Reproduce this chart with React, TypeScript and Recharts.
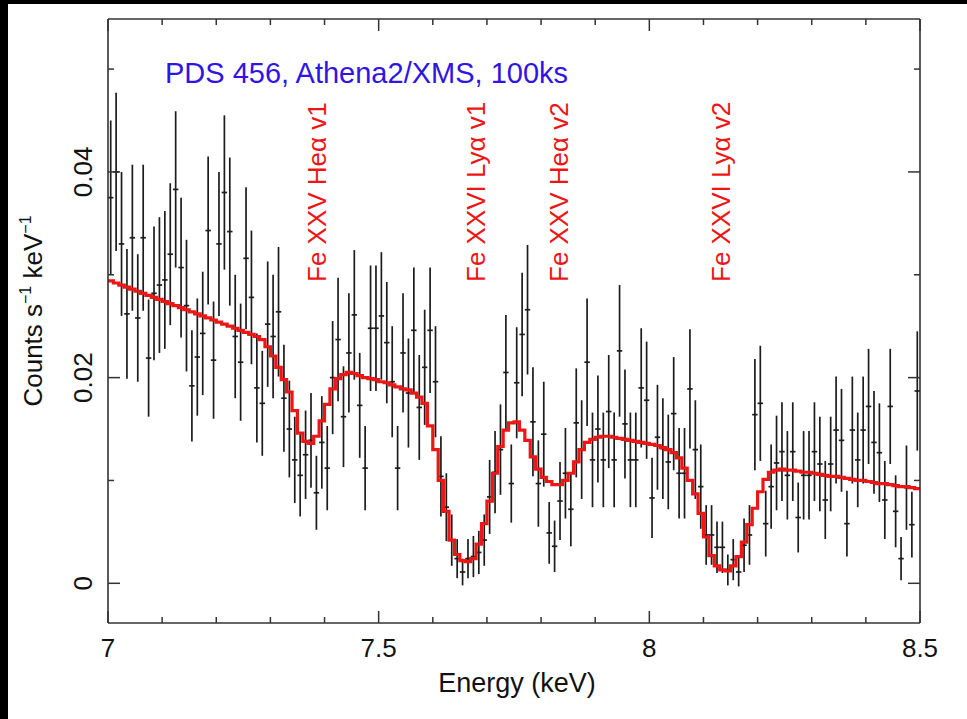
import React from "react";
import { ComposedChart, XAxis, YAxis, Scatter, Line, ErrorBar } from "recharts";

// bin centres (keV), 0.01 keV bins
const ENERGY = [
  7.005, 7.015, 7.025, 7.035, 7.045, 7.055, 7.065, 7.075, 7.085, 7.095,
  7.105, 7.115, 7.125, 7.135, 7.145, 7.155, 7.165, 7.175, 7.185, 7.195,
  7.205, 7.215, 7.225, 7.235, 7.245, 7.255, 7.265, 7.275, 7.285, 7.295,
  7.305, 7.315, 7.325, 7.335, 7.345, 7.355, 7.365, 7.375, 7.385, 7.395,
  7.405, 7.415, 7.425, 7.435, 7.445, 7.455, 7.465, 7.475, 7.485, 7.495,
  7.505, 7.515, 7.525, 7.535, 7.545, 7.555, 7.565, 7.575, 7.585, 7.595,
  7.605, 7.615, 7.625, 7.635, 7.645, 7.655, 7.665, 7.675, 7.685, 7.695,
  7.705, 7.715, 7.725, 7.735, 7.745, 7.755, 7.765, 7.775, 7.785, 7.795,
  7.805, 7.815, 7.825, 7.835, 7.845, 7.855, 7.865, 7.875, 7.885, 7.895,
  7.905, 7.915, 7.925, 7.935, 7.945, 7.955, 7.965, 7.975, 7.985, 7.995,
  8.005, 8.015, 8.025, 8.035, 8.045, 8.055, 8.065, 8.075, 8.085, 8.095,
  8.105, 8.115, 8.125, 8.135, 8.145, 8.155, 8.165, 8.175, 8.185, 8.195,
  8.205, 8.215, 8.225, 8.235, 8.245, 8.255, 8.265, 8.275, 8.285, 8.295,
  8.305, 8.315, 8.325, 8.335, 8.345, 8.355, 8.365, 8.375, 8.385, 8.395,
  8.405, 8.415, 8.425, 8.435, 8.445, 8.455, 8.465, 8.475, 8.485, 8.495,
];

// counts s^-1 keV^-1
const COUNTS = [
  0.0375, 0.0400, 0.0330, 0.0262, 0.0336, 0.0258, 0.0336, 0.0219, 0.0282, 0.0290,
  0.0295, 0.0320, 0.0383, 0.0307, 0.0270, 0.0192, 0.0220, 0.0243, 0.0343, 0.0217,
  0.0330, 0.0380, 0.0342, 0.0240, 0.0215, 0.0316, 0.0278, 0.0190, 0.0175, 0.0252,
  0.0240, 0.0264, 0.0180, 0.0150, 0.0120, 0.0105, 0.0125, 0.0139, 0.0088, 0.0137,
  0.0112, 0.0200, 0.0237, 0.0162, 0.0224, 0.0261, 0.0173, 0.0112, 0.0248, 0.0248,
  0.0260, 0.0234, 0.0196, 0.0112, 0.0224, 0.0185, 0.0246, 0.0171, 0.0210, 0.0246,
  0.0196, 0.0104, 0.0074, 0.0042, 0.0024, 0.0011, 0.0024, 0.0026, 0.0030, 0.0042,
  0.0084, 0.0108, 0.0130, 0.0205, 0.0097, 0.0195, 0.0242, 0.0266, 0.0157, 0.0097,
  0.0145, 0.0049, 0.0036, 0.0080, 0.0107, 0.0072, 0.0156, 0.0130, 0.0215, 0.0120,
  0.0150, 0.0120, 0.0167, 0.0120, 0.0226, 0.0155, 0.0120, 0.0120, 0.0190, 0.0178,
  0.0083, 0.0142, 0.0131, 0.0118, 0.0165, 0.0107, 0.0107, 0.0189, 0.0130, 0.0094,
  0.0047, 0.0047, 0.0035, 0.0035, 0.0013, 0.0023, 0.0011, 0.0037, 0.0047, 0.0164,
  0.0175, 0.0058, 0.0094, 0.0117, 0.0128, 0.0105, 0.0128, 0.0064, 0.0105, 0.0105,
  0.0128, 0.0116, 0.0081, 0.0116, 0.0149, 0.0139, 0.0058, 0.0149, 0.0120, 0.0149,
  0.0172, 0.0137, 0.0127, 0.0081, 0.0172, 0.0070, 0.0024, 0.0093, 0.0057, 0.0187,
];

// 1-sigma errors on COUNTS
const COUNT_ERR = [
  0.0075, 0.0077, 0.0070, 0.0063, 0.0071, 0.0062, 0.0071, 0.0057, 0.0065, 0.0066,
  0.0067, 0.0069, 0.0076, 0.0068, 0.0064, 0.0054, 0.0057, 0.0060, 0.0072, 0.0057,
  0.0070, 0.0075, 0.0072, 0.0060, 0.0057, 0.0069, 0.0065, 0.0053, 0.0051, 0.0061,
  0.0060, 0.0063, 0.0052, 0.0047, 0.0042, 0.0040, 0.0043, 0.0046, 0.0036, 0.0045,
  0.0041, 0.0055, 0.0060, 0.0049, 0.0058, 0.0063, 0.0051, 0.0041, 0.0061, 0.0061,
  0.0062, 0.0059, 0.0054, 0.0041, 0.0058, 0.0053, 0.0061, 0.0051, 0.0056, 0.0061,
  0.0054, 0.0039, 0.0033, 0.0025, 0.0019, 0.0013, 0.0019, 0.0020, 0.0021, 0.0025,
  0.0036, 0.0040, 0.0044, 0.0056, 0.0038, 0.0054, 0.0060, 0.0063, 0.0053, 0.0042,
  0.0051, 0.0030, 0.0025, 0.0038, 0.0044, 0.0036, 0.0053, 0.0048, 0.0062, 0.0046,
  0.0052, 0.0046, 0.0055, 0.0046, 0.0064, 0.0053, 0.0046, 0.0046, 0.0058, 0.0057,
  0.0039, 0.0051, 0.0049, 0.0046, 0.0055, 0.0044, 0.0044, 0.0058, 0.0048, 0.0041,
  0.0029, 0.0029, 0.0025, 0.0025, 0.0015, 0.0020, 0.0014, 0.0026, 0.0029, 0.0054,
  0.0056, 0.0032, 0.0041, 0.0046, 0.0048, 0.0043, 0.0048, 0.0034, 0.0043, 0.0043,
  0.0048, 0.0046, 0.0038, 0.0046, 0.0052, 0.0050, 0.0032, 0.0052, 0.0046, 0.0052,
  0.0056, 0.0050, 0.0048, 0.0038, 0.0056, 0.0035, 0.0021, 0.0041, 0.0032, 0.0058,
];

// folded model, one value per bin
const MODEL = [
  0.0294, 0.0292, 0.0290, 0.0288, 0.0286, 0.0284, 0.0282, 0.0280, 0.0278, 0.0276,
  0.0274, 0.0272, 0.0270, 0.0268, 0.0266, 0.0264, 0.0262, 0.0260, 0.0258, 0.0256,
  0.0254, 0.0252, 0.0250, 0.0248, 0.0246, 0.0244, 0.0242, 0.0240, 0.0237, 0.0230,
  0.0221, 0.0210, 0.0198, 0.0186, 0.0168, 0.0146, 0.0138, 0.0136, 0.0143, 0.0158,
  0.0174, 0.0189, 0.0199, 0.0203, 0.0205, 0.0204, 0.0202, 0.0200, 0.0199, 0.0198,
  0.0196, 0.0195, 0.0193, 0.0191, 0.0189, 0.0188, 0.0185, 0.0181, 0.0175, 0.0153,
  0.0130, 0.0100, 0.0070, 0.0042, 0.0028, 0.0022, 0.0021, 0.0024, 0.0038, 0.0058,
  0.0080, 0.0107, 0.0133, 0.0149, 0.0156, 0.0157, 0.0149, 0.0139, 0.0123, 0.0111,
  0.0103, 0.0099, 0.0096, 0.0096, 0.0100, 0.0107, 0.0118, 0.0130, 0.0137, 0.0140,
  0.0142, 0.0143, 0.0143, 0.0142, 0.0141, 0.0140, 0.0139, 0.0138, 0.0137, 0.0136,
  0.0135, 0.0134, 0.0132, 0.0130, 0.0127, 0.0122, 0.0112, 0.0100, 0.0087, 0.0068,
  0.0045, 0.0027, 0.0017, 0.0013, 0.0012, 0.0017, 0.0026, 0.0040, 0.0057, 0.0073,
  0.0089, 0.0101, 0.0108, 0.0110, 0.0111, 0.0110, 0.0110, 0.0109, 0.0108, 0.0108,
  0.0107, 0.0106, 0.0105, 0.0104, 0.0104, 0.0103, 0.0102, 0.0101, 0.0100, 0.0100,
  0.0099, 0.0098, 0.0097, 0.0097, 0.0096, 0.0095, 0.0094, 0.0094, 0.0093, 0.0092,
];

const X_TICKS = [7, 7.1, 7.2, 7.3, 7.4, 7.5, 7.6, 7.7, 7.8, 7.9, 8, 8.1, 8.2, 8.3, 8.4, 8.5];
const Y_TICKS = [0, 0.01, 0.02, 0.03, 0.04, 0.05];
const BIN_HALF = 0.005;

const LINE_LABELS = [
  { text: "Fe XXV Heα v1", x: 326 },
  { text: "Fe XXVI Lyα v1", x: 485 },
  { text: "Fe XXV Heα v2", x: 568 },
  { text: "Fe XXVI Lyα v2", x: 730 },
];

const FONT = "'Liberation Sans', Arial, Helvetica, sans-serif";
const FRAME = "#333";
const RED = "#ee1515";

const spectrum = ENERGY.map((e, i) => ({ e, c: COUNTS[i], ey: COUNT_ERR[i], ex: BIN_HALF }));
const model = [
  { e: 7, m: MODEL[0] },
  ...ENERGY.map((e, i) => ({ e, m: MODEL[i] })),
  { e: 8.5, m: MODEL[MODEL.length - 1] },
];

const isMajorX = (v: number) => Math.abs(v * 2 - Math.round(v * 2)) < 1e-6;
const isMajorY = (v: number) => Math.abs(v * 50 - Math.round(v * 50)) < 1e-6;

const BottomTick = ({ x, y, payload }: any) => {
  const major = isMajorX(payload.value);
  return (
    <g>
      <line x1={x} x2={x} y1={y} y2={y - (major ? 12 : 6)} stroke={FRAME} strokeWidth={1.5} />
      {major && (
        <text x={x} y={y + 34} textAnchor="middle" fontSize={26} fontFamily={FONT} fill="#111">
          {String(payload.value)}
        </text>
      )}
    </g>
  );
};

const TopTick = ({ x, y, payload }: any) => {
  const major = isMajorX(payload.value);
  return <line x1={x} x2={x} y1={y} y2={y + (major ? 12 : 6)} stroke={FRAME} strokeWidth={1.5} />;
};

const LeftTick = ({ x, y, payload }: any) => {
  const major = isMajorY(payload.value);
  const lx = x - 16;
  return (
    <g>
      <line x1={x} x2={x + (major ? 12 : 6)} y1={y} y2={y} stroke={FRAME} strokeWidth={1.5} />
      {major && (
        <text
          x={lx}
          y={y}
          transform={`rotate(-90 ${lx} ${y})`}
          textAnchor="middle"
          fontSize={26}
          fontFamily={FONT}
          fill="#111"
        >
          {String(payload.value)}
        </text>
      )}
    </g>
  );
};

const RightTick = ({ x, y, payload }: any) => {
  const major = isMajorY(payload.value);
  return <line x1={x} x2={x - (major ? 12 : 6)} y1={y} y2={y} stroke={FRAME} strokeWidth={1.5} />;
};

const NoShape = () => <g />;

export default function App() {
  return (
    <div style={{ position: "absolute", left: 0, top: 0, width: 967, height: 719, background: "#fff" }}>
      <div style={{ position: "absolute", left: 0, top: 0, width: 967, height: 4, background: "#000" }} />
      <div style={{ position: "absolute", left: 0, top: 0, width: 8, height: 719, background: "#000" }} />
      <ComposedChart width={967} height={719} margin={{ top: 0, right: 0, bottom: 0, left: 0 }}>
        <XAxis
          dataKey="e"
          type="number"
          domain={[7, 8.5]}
          allowDataOverflow
          ticks={X_TICKS}
          interval={0}
          height={96}
          tickSize={0}
          tickMargin={0}
          tickLine={false}
          axisLine={{ stroke: FRAME, strokeWidth: 1.6 }}
          tick={(p: any) => <BottomTick {...p} />}
        />
        <XAxis
          xAxisId="top"
          orientation="top"
          dataKey="e"
          type="number"
          domain={[7, 8.5]}
          allowDataOverflow
          ticks={X_TICKS}
          interval={0}
          height={19}
          tickSize={0}
          tickMargin={0}
          tickLine={false}
          axisLine={{ stroke: FRAME, strokeWidth: 1.6 }}
          tick={(p: any) => <TopTick {...p} />}
        />
        <YAxis
          type="number"
          domain={[-0.00386, 0.05487]}
          allowDataOverflow
          ticks={Y_TICKS}
          interval={0}
          width={108}
          tickSize={0}
          tickMargin={0}
          tickLine={false}
          axisLine={{ stroke: FRAME, strokeWidth: 1.6 }}
          tick={(p: any) => <LeftTick {...p} />}
        />
        <YAxis
          yAxisId="right"
          orientation="right"
          type="number"
          domain={[-0.00386, 0.05487]}
          allowDataOverflow
          ticks={Y_TICKS}
          interval={0}
          width={47}
          tickSize={0}
          tickMargin={0}
          tickLine={false}
          axisLine={{ stroke: FRAME, strokeWidth: 1.6 }}
          tick={(p: any) => <RightTick {...p} />}
        />
        <Scatter data={spectrum} dataKey="c" shape={NoShape} isAnimationActive={false}>
          <ErrorBar dataKey="ey" direction="y" width={0} stroke="#1c1c1c" strokeWidth={1.7} />
          <ErrorBar dataKey="ex" direction="x" width={0} stroke="#1c1c1c" strokeWidth={1.7} />
        </Scatter>
        <Line
          data={model}
          dataKey="m"
          type="step"
          stroke={RED}
          strokeWidth={3.2}
          dot={false}
          activeDot={false}
          isAnimationActive={false}
        />
      </ComposedChart>
      <svg
        width={967}
        height={719}
        style={{ position: "absolute", left: 0, top: 0, pointerEvents: "none" }}
        fontFamily={FONT}
      >
        <text x={165} y={83} fontSize={29} fill="#3014e6">
          PDS 456, Athena2/XMS, 100ks
        </text>
        {LINE_LABELS.map((l) => (
          <text
            key={l.text}
            x={l.x}
            y={282}
            transform={`rotate(-90 ${l.x} 282)`}
            fontSize={26}
            fill={RED}
          >
            {l.text}
          </text>
        ))}
        <text x={517} y={692} textAnchor="middle" fontSize={27} fill="#111">
          Energy (keV)
        </text>
        <text x={42} y={311} transform="rotate(-90 42 311)" textAnchor="middle" fontSize={26} fill="#111">
          Counts s
          <tspan dy={-11} fontSize={16}>−1</tspan>
          <tspan dy={11}> keV</tspan>
          <tspan dy={-11} fontSize={16}>−1</tspan>
        </text>
      </svg>
    </div>
  );
}
